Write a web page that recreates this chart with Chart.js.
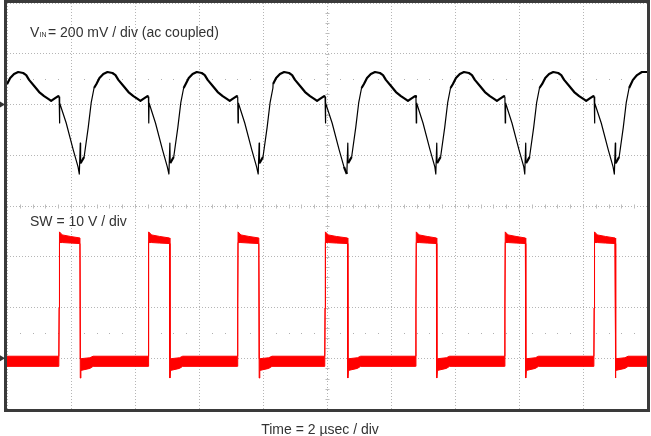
<!DOCTYPE html>
<html>
<head>
<meta charset="utf-8">
<script src="https://cdn.jsdelivr.net/npm/chart.js@4.4.0/dist/chart.umd.min.js"></script>
<style>
  html, body { margin: 0; padding: 0; background: #fff; }
</style>
</head>
<body>
<canvas id="scope" width="651" height="436"></canvas>
<script>
// Scope capture: VIN ripple (200 mV/div, ac coupled) over the SW node (10 V/div), 2 us/div

// SW edges, us from left edge of screen
const riseTimes = [1.63, 4.42, 7.21, 9.94, 12.78, 15.56, 18.35];
const fallTimes = [2.29, 5.09, 7.88, 10.65, 13.43, 16.21, 19.01];

const vinRiseOffsets = [-1.625, -1.53, -1.41, -1.28, -1.125, -1.03, -0.94, -0.78, -0.625, -0.47, -0.34, -0.25, -0.16, -0.03, 0, 0.01, 0.02, 0.22, 0.44, 0.59];
const vinRiseValues  = [81, 104, 120, 128, 124, 116, 97, 73, 49, 33, 22, 14, 22, 33, 30, -73, 6, -73, -179, -246];
// ...and from the SW falling edge
const vinFallOffsets = [-0.03, 0, 0.01, 0.12, 0.25, 0.34, 0.43];
const vinFallValues  = [-274, -152, -231, -207, -89, 6, 65];
// screen edges
const vinLeadTimes = [0];
const vinLeadValues = [85];
const vinTailTimes = [19.56, 19.69, 19.84, 20];
const vinTailValues = [97, 116, 128, 128];

// SW (V): upper / lower edge of the noisy trace
const swLowUpper = 0.4;
const swLowLower = -1.6;
const swRiseOffsets = [-0.01, 0, 0.01, 0.1, 0.35];
const swRiseUpper   = [0.4, 9.9, 24.9, 24.3, 24.0];
const swRiseLower   = [-1.6, 9.9, 22.8, 22.8, 22.7];
const swFallOffsets = [-0.01, 0, 0.02, 0.3, 0.4];
const swFallUpper   = [23.7, -0.1, -0.1, 0.1, 0.4];
const swFallLower   = [22.6, -3.9, -2.4, -2.0, -1.6];

function buildVin() {
  const pts = vinLeadTimes.map((t, i) => ({ x: t, y: vinLeadValues[i] }));
  riseTimes.forEach((r, k) => {
    vinRiseOffsets.forEach((d, i) => pts.push({ x: r + d, y: vinRiseValues[i] }));
    vinFallOffsets.forEach((d, i) => pts.push({ x: fallTimes[k] + d, y: vinFallValues[i] }));
  });
  vinTailTimes.forEach((t, i) => pts.push({ x: t, y: vinTailValues[i] }));
  return pts.sort((a, b) => a.x - b.x);
}

function buildSw(lowLevel, riseVals, fallVals) {
  const pts = [{ x: 0, y: lowLevel }];
  riseTimes.forEach((r, k) => {
    swRiseOffsets.forEach((d, i) => pts.push({ x: r + d, y: riseVals[i] }));
    swFallOffsets.forEach((d, i) => pts.push({ x: fallTimes[k] + d, y: fallVals[i] }));
  });
  pts.push({ x: 20, y: lowLevel });
  return pts;
}

const FONT = '"Liberation Sans", Arial, sans-serif';
const GRID = '#b5b5b5';

const graticule = {
  id: 'graticule',
  beforeDatasetsDraw(chart) {
    const { ctx, scales } = chart;
    const x = scales.x, y = scales.y;
    ctx.save();
    ctx.strokeStyle = '#bdbdbd';
    ctx.lineWidth = 1;
    ctx.beginPath();
    // minor ticks on the centre cross
    const cx = Math.round(x.getPixelForValue(10)) + 0.5;
    const cy = Math.round(y.getPixelForValue(4)) + 0.5;
    for (let v = 0.2; v < 8; v += 0.2) {
      const py = Math.round(y.getPixelForValue(v)) + 0.5;
      ctx.moveTo(cx - 2, py); ctx.lineTo(cx + 2, py);
    }
    for (let t = 0.4; t < 20; t += 0.4) {
      const px = Math.round(x.getPixelForValue(t)) + 0.5;
      ctx.moveTo(px, cy - 2); ctx.lineTo(px, cy + 2);
    }
    ctx.stroke();
    // dotted rows 2.5 div above / below centre
    ctx.fillStyle = '#b0b0b0';
    [1.5, 6.5].forEach(v => {
      const py = Math.round(y.getPixelForValue(v));
      for (let t = 0.4; t < 20; t += 0.4) {
        const px = Math.round(x.getPixelForValue(t));
        ctx.fillRect(px, py, 1, 1);
      }
    });
    ctx.restore();
  },
  afterDraw(chart) {
    const { ctx, chartArea: a, scales } = chart;
    ctx.save();
    // frame
    ctx.strokeStyle = '#3a3a3a';
    ctx.lineWidth = 3;
    ctx.strokeRect(a.left - 1.5, a.top - 1.5, a.right - a.left + 3, a.bottom - a.top + 3);
    // ground markers
    ctx.fillStyle = '#333';
    [scales.yv.getPixelForValue(0), scales.ys.getPixelForValue(0)].forEach(py => {
      ctx.beginPath();
      ctx.moveTo(0, py - 3); ctx.lineTo(5, py); ctx.lineTo(0, py + 3);
      ctx.closePath(); ctx.fill();
    });
    // labels
    ctx.fillStyle = '#333';
    ctx.textBaseline = 'alphabetic';
    ctx.font = '14px ' + FONT;
    ctx.fillText('V', a.left + 23, 37);
    ctx.font = '7px ' + FONT;
    ctx.fillText('IN', a.left + 32.5, 37);
    ctx.font = '14px ' + FONT;
    ctx.fillText('= 200 mV / div (ac coupled)', a.left + 41, 37);
    ctx.fillText('SW = 10 V / div', a.left + 23, 226);
    ctx.textAlign = 'center';
    ctx.fillText('Time = 2 µsec / div', 320, 434);
    ctx.restore();
  }
};

const scopeChart = new Chart(document.getElementById('scope'), {
  type: 'line',
  data: {
    datasets: [
      {
        label: 'VIN',
        data: buildVin(),
        yAxisID: 'yv',
        borderColor: '#000',
        borderJoinStyle: 'round',
        pointRadius: 0,
        tension: 0,
        segment: {
          // slow parts of the trace look thicker on the scope
          borderWidth: c => Math.abs(c.p1.y - c.p0.y) > 2.5 * Math.abs(c.p1.x - c.p0.x) ? 1.2 : 2.2
        }
      },
      {
        label: 'SW upper',
        data: buildSw(swLowUpper, swRiseUpper, swFallUpper),
        yAxisID: 'ys',
        borderColor: '#ff0000',
        borderWidth: 1,
        pointRadius: 0,
        tension: 0,
        fill: false
      },
      {
        label: 'SW lower',
        data: buildSw(swLowLower, swRiseLower, swFallLower),
        yAxisID: 'ys',
        borderColor: '#ff0000',
        backgroundColor: '#ff0000',
        borderWidth: 1,
        pointRadius: 0,
        tension: 0,
        fill: '-1'
      }
    ]
  },
  options: {
    responsive: false,
    animation: false,
    events: [],
    layout: { padding: { left: 7, top: 3, right: 4, bottom: 27 } },
    plugins: { legend: { display: false }, tooltip: { enabled: false } },
    scales: {
      x: {
        type: 'linear', min: 0, max: 20,
        ticks: { display: false, stepSize: 2 },
        grid: { color: GRID, drawTicks: false },
        border: { display: false, dash: [1, 2] }
      },
      y: {
        type: 'linear', min: 0, max: 8,
        ticks: { display: false, stepSize: 1 },
        grid: { color: GRID, drawTicks: false },
        border: { display: false, dash: [1, 2] }
      },
      yv: { type: 'linear', display: false, min: -1200, max: 400 },
      ys: { type: 'linear', display: false, min: -10, max: 70 }
    }
  },
  plugins: [graticule]
});
</script>
</body>
</html>
